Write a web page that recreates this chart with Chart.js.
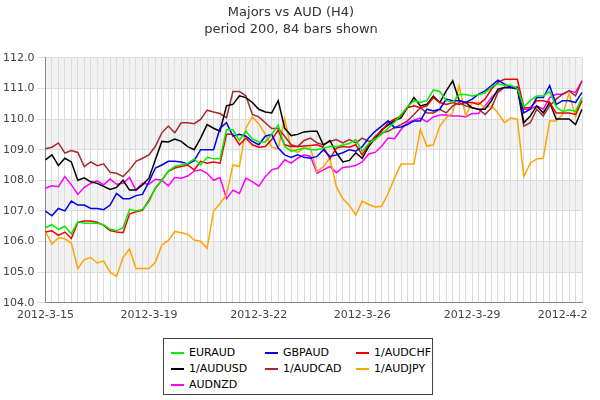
<!DOCTYPE html>
<html><head><meta charset="utf-8">
<script src="https://cdn.jsdelivr.net/npm/chart.js@4"></script>
<style>
body{margin:0;background:#fff;font-family:"DejaVu Sans",sans-serif;}
#wrap{position:absolute;left:0;top:0;width:600px;height:328px;}
#legend{position:absolute;left:163px;top:338px;width:270px;height:57px;border:1px solid #444;box-sizing:border-box;font-size:11px;color:#000;}
.it{position:absolute;height:14px;line-height:14px;white-space:nowrap;}
.it span{display:inline-block;width:13px;height:2px;vertical-align:middle;margin-right:5px;}
</style></head><body>
<div id="wrap"><canvas id="c"></canvas></div>
<div id="legend"></div>
<script>
const nBars = 84;
const dateLabels = {0:"2012-3-15",16:"2012-3-19",33:"2012-3-22",49:"2012-3-26",66:"2012-3-29",80:"2012-4-2"};
const EURAUD = [106.45,106.55,106.4,106.5,106.25,106.65,106.6,106.6,106.6,106.55,106.4,106.35,106.45,107.05,107.0,107.05,107.3,107.75,108.0,108.3,108.45,108.5,108.55,108.7,108.5,108.75,108.7,108.7,109.65,109.65,109.3,109.6,109.35,109.25,109.25,109.5,109.8,109.1,108.95,109.0,109.05,109.0,109.0,109.05,109.1,109.1,109.15,109.2,109.33,108.95,109.2,109.35,109.5,109.7,109.9,110.15,110.4,110.6,110.55,110.6,110.95,110.9,110.6,110.55,110.8,110.8,110.75,110.8,110.85,111.05,111.15,111.1,111.1,111.0,110.4,110.6,110.75,110.75,110.9,110.4,110.25,110.3,110.25,110.7];
const GBPAUD = [106.99,106.84,107.08,107.0,107.32,107.19,107.19,107.08,107.08,107.04,107.19,107.57,107.4,107.4,107.5,107.54,107.95,108.4,108.5,108.62,108.62,108.6,108.53,108.64,109.0,109.0,109.0,109.7,109.88,109.44,109.5,109.44,109.27,109.16,109.44,109.5,109.05,108.83,108.75,108.83,108.75,108.72,108.78,109.0,108.78,108.83,108.9,109.0,108.95,109.1,109.38,109.6,109.77,109.94,109.72,109.74,109.82,109.94,109.94,110.32,110.26,110.32,110.65,110.6,110.6,110.54,110.65,110.81,110.92,111.09,111.27,111.14,111.03,110.98,110.2,110.32,110.7,110.7,111.09,110.48,110.6,110.6,110.54,110.87];
const AUDCHF_inv = [106.31,106.35,106.2,106.31,106.1,106.63,106.67,106.67,106.63,106.53,106.36,106.31,106.29,106.9,106.97,107.02,107.35,107.74,108.0,108.29,108.4,108.45,108.5,108.34,108.62,108.56,108.6,108.56,109.5,109.5,109.16,109.38,109.16,109.08,109.1,109.33,109.63,109.16,109.1,109.1,109.12,109.14,109.16,109.08,108.7,109.05,109.1,109.08,109.16,108.83,109.16,109.44,109.6,109.88,110.0,110.1,110.37,110.43,110.37,110.43,110.7,110.54,110.48,110.54,110.48,110.54,110.54,110.48,110.65,110.98,111.2,111.3,111.3,111.3,110.37,110.37,110.6,110.6,110.54,110.2,110.2,110.2,110.15,110.6];
const AUDUSD_inv = [108.67,108.83,108.48,108.72,108.6,108.0,108.08,107.95,107.9,107.8,107.7,107.77,108.0,107.68,107.68,107.85,108.07,108.67,109.27,109.25,109.35,109.27,109.1,109.0,109.38,109.82,109.7,109.6,110.43,110.48,110.76,110.7,110.54,110.32,110.23,110.2,110.6,109.7,109.46,109.5,109.58,109.6,109.6,109.15,109.3,108.9,108.6,108.65,108.9,108.72,109.1,109.38,109.65,109.8,109.95,110.04,110.37,110.7,110.43,110.48,110.75,110.54,110.92,111.25,110.6,110.54,110.37,110.32,110.32,110.6,110.98,111.03,111.03,111.03,109.88,110.1,110.43,110.2,110.54,110.0,110.0,110.0,109.82,110.32];
const AUDCAD_inv = [109.03,109.08,109.22,108.89,108.97,108.91,108.45,108.6,108.48,108.54,108.26,108.23,108.12,108.34,108.62,108.72,108.83,109.11,109.55,109.77,109.55,109.88,109.88,109.85,109.99,110.29,110.23,110.18,110.04,110.9,110.9,110.76,110.15,110.07,109.88,109.69,109.69,109.44,109.16,109.1,109.3,109.38,109.22,109.16,109.27,109.33,109.22,109.33,109.22,109.38,109.27,109.33,109.55,109.6,109.72,109.82,109.94,110.15,110.37,110.2,110.2,110.32,110.2,110.43,110.54,110.43,110.37,110.32,110.15,110.37,110.87,111.03,111.03,111.03,109.77,109.88,110.32,110.1,110.43,110.65,110.81,110.92,110.76,111.25];
const AUDJPY_inv = [106.33,105.92,106.12,106.09,105.95,105.12,105.41,105.48,105.3,105.37,104.99,104.86,105.48,105.76,105.12,105.12,105.12,105.32,105.89,106.03,106.33,106.29,106.24,106.05,106.01,105.78,106.99,107.24,107.52,108.5,108.45,109.71,110.07,109.85,109.5,109.08,109.03,110.02,109.0,108.91,109.05,109.05,108.29,108.45,108.72,107.79,107.4,107.19,106.86,107.32,107.21,107.13,107.15,107.57,108.07,108.53,108.53,108.53,109.66,109.11,109.16,109.77,110.04,110.2,111.09,110.1,110.54,110.54,110.37,110.43,110.2,109.88,110.04,109.99,108.12,108.56,108.7,108.72,109.94,109.94,110.15,110.84,110.07,110.6];
const AUDNZD = [107.74,107.82,107.79,108.12,107.85,107.54,107.77,107.9,107.98,107.85,108.04,107.87,107.9,108.09,107.68,107.9,107.87,108.03,108.0,107.82,108.09,108.07,108.14,108.3,108.34,108.23,108.0,108.09,107.4,107.68,107.57,108.07,107.96,107.81,108.12,108.34,108.4,108.67,108.56,108.72,108.83,108.78,108.23,108.34,108.45,108.25,108.42,108.44,108.48,108.6,108.86,108.91,109.11,109.38,109.36,109.66,109.88,109.96,110.03,109.91,110.07,110.13,110.13,110.1,110.1,110.07,110.18,110.18,110.43,110.7,110.92,111.03,111.03,111.03,110.32,110.32,110.43,110.32,110.7,110.81,110.81,110.92,110.87,111.25];
const seriesNames = ["EURAUD","GBPAUD","1/AUDCHF","1/AUDUSD","1/AUDCAD","1/AUDJPY","AUDNZD"];
const seriesData = [EURAUD,GBPAUD,AUDCHF_inv,AUDUSD_inv,AUDCAD_inv,AUDJPY_inv,AUDNZD];
const colors = ["#00ee00","#0000ee","#ee0000","#000000","#a52a2a","#ffa500","#ff00ff"];
const yTicks = [104,105,106,107,108,109,110,111,112];

const labels = Array.from({length:nBars},(_,i)=>dateLabels[i]||"");
const bands = {id:'bands',beforeDraw(ch){const {ctx,chartArea:a,scales:{y}}=ch;ctx.save();ctx.fillStyle='#f2f2f2';
 for(let v=105;v<112;v+=2){const t=y.getPixelForValue(v+1),b=y.getPixelForValue(v);ctx.fillRect(a.left,t,a.right-a.left,b-t);}ctx.restore();}};
new Chart(document.getElementById('c'),{type:'line',
 data:{labels,datasets:seriesNames.map((n,k)=>({label:n,data:seriesData[k],borderColor:colors[k],borderWidth:1.5,pointRadius:0,tension:0,fill:false}))},
 options:{responsive:true,maintainAspectRatio:false,animation:false,
  layout:{padding:{left:0,right:18,top:0,bottom:0}},
  plugins:{legend:{display:false},tooltip:{enabled:false},
   title:{display:true,text:["Majors vs AUD (H4)","period 200, 84 bars shown"],color:'#333',font:{family:'DejaVu Sans',size:13,weight:'normal',lineHeight:1.3},padding:{top:4,bottom:20}}},
  scales:{
   x:{offset:false,grid:{color:'#dcdcdc',drawTicks:false},border:{color:'#888'},
      ticks:{autoSkip:false,maxRotation:0,color:'#444',font:{family:'DejaVu Sans',size:11},padding:6,callback:(v,i)=>labels[i]}},
   y:{min:104,max:112,grid:{color:'#dcdcdc'},border:{color:'#888'},
      afterBuildTicks:s=>{s.ticks=yTicks.map(v=>({value:v}));},
      ticks:{color:'#444',font:{family:'DejaVu Sans',size:11},callback:v=>Number(v).toFixed(1)}}}},
 plugins:[bands]});
const lg=document.getElementById('legend');
const colX=[7,101,192];
seriesNames.forEach((n,k)=>{const d=document.createElement('div');d.className='it';
 d.style.left=colX[k%3]+'px';d.style.top=(7+Math.floor(k/3)*16)+'px';
 d.innerHTML='<span style="background:'+colors[k]+'"></span>'+n;lg.appendChild(d);});
</script></body></html>
